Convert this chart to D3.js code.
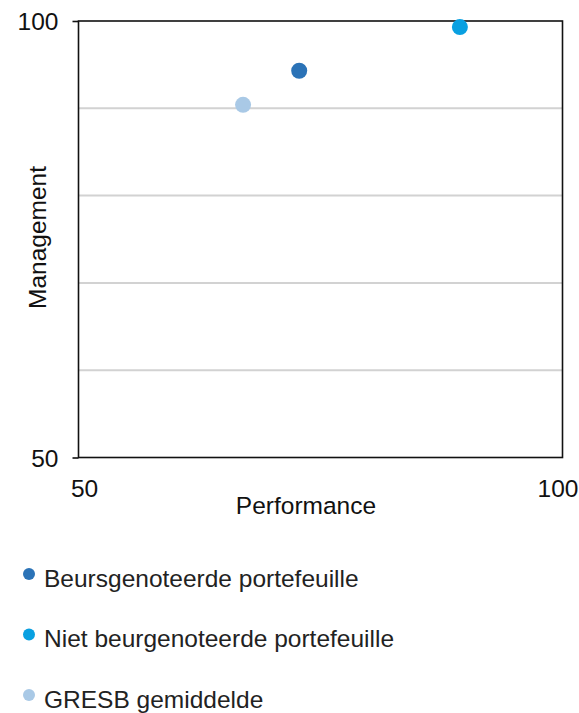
<!DOCTYPE html>
<html>
<head>
<meta charset="utf-8">
<script src="https://cdn.jsdelivr.net/npm/d3@7"></script>
<style>
  html, body { margin: 0; padding: 0; background: #fff; }
  svg { display: block; font-family: "Liberation Sans", Arial, Helvetica, sans-serif; }
</style>
</head>
<body>
<svg id="chart" width="579" height="713"></svg>
<script>
// Portfolio scores: GRESB performance (x) vs management (y)
const seriesNames = ["Beursgenoteerde portefeuille", "Niet beurgenoteerde portefeuille", "GRESB gemiddelde"];
const performance = [72.8, 89.4, 67.0];
const management = [94.3, 99.3, 90.4];
const seriesColors = ["#2b73b7", "#09a0e1", "#a9c9e6"];

const axisDomain = [50, 100];
const tickLabels = [50, 100];
const gridValues = [60, 70, 80, 90];
const xTitle = "Performance";
const yTitle = "Management";

const svg = d3.select("#chart");
const margin = { left: 78.5, top: 21, right: 16.5, bottom: 255.5 };
const W = 579 - margin.left - margin.right;
const H = 713 - margin.top - margin.bottom;
const fontSize = "24.5px";

const x = d3.scaleLinear().domain(axisDomain).range([0, W]);
const y = d3.scaleLinear().domain(axisDomain).range([H, 0]);

const g = svg.append("g").attr("transform", `translate(${margin.left},${margin.top})`);

// horizontal gridlines
g.append("g").selectAll("line").data(gridValues).join("line")
  .attr("x1", 0).attr("x2", W)
  .attr("y1", d => y(d)).attr("y2", d => y(d))
  .attr("stroke", "#d2d2d2").attr("stroke-width", 2);

// plot frame
g.append("rect")
  .attr("x", 0).attr("y", 0).attr("width", W).attr("height", H)
  .attr("fill", "none").attr("stroke", "#111").attr("stroke-width", 1.6);

// y axis: short outward ticks at the ends, labels right-aligned
const yAxis = g.append("g")
  .call(d3.axisLeft(y).tickValues(tickLabels).tickSize(6).tickPadding(14).tickFormat(d3.format("d")));
yAxis.select(".domain").remove();
yAxis.selectAll(".tick line").attr("stroke", "#111").attr("stroke-width", 1.6);
yAxis.selectAll(".tick text")
  .attr("font-size", fontSize).attr("fill", "#111").attr("dy", "0.36em")
  .style("font-family", "inherit");

// x axis: labels only, nudged inward at the ends
const xAxis = g.append("g")
  .attr("transform", `translate(0,${H})`)
  .call(d3.axisBottom(x).tickValues(tickLabels).tickSize(0).tickPadding(0).tickFormat(d3.format("d")));
xAxis.select(".domain").remove();
xAxis.selectAll(".tick text")
  .attr("font-size", fontSize).attr("fill", "#111")
  .attr("y", 39.5).attr("dy", 0)
  .attr("dx", (d, i) => i === 0 ? 5.5 : -5)
  .style("font-family", "inherit");

// axis titles
g.append("text")
  .attr("x", W / 2 - 14.5).attr("y", H + 56)
  .attr("text-anchor", "middle").attr("font-size", fontSize).attr("fill", "#111")
  .text(xTitle);
g.append("text")
  .attr("transform", `translate(${46 - margin.left},${237.5 - margin.top}) rotate(-90)`)
  .attr("text-anchor", "middle").attr("font-size", fontSize).attr("fill", "#111")
  .text(yTitle);

// data points
const points = seriesNames.map((name, i) => ({ name, px: performance[i], py: management[i], color: seriesColors[i] }));
g.append("g").selectAll("circle").data(points).join("circle")
  .attr("cx", d => x(d.px)).attr("cy", d => y(d.py))
  .attr("r", 8).attr("fill", d => d.color);

// legend
const legend = svg.append("g").attr("transform", "translate(29,574)");
const rows = legend.selectAll("g").data(points).join("g")
  .attr("transform", (d, i) => `translate(0,${i * 60.5})`);
rows.append("circle").attr("r", 6).attr("fill", d => d.color);
rows.append("text")
  .attr("x", 15).attr("y", 12.5)
  .attr("font-size", fontSize).attr("fill", "#222")
  .text(d => d.name);
</script>
</body>
</html>
